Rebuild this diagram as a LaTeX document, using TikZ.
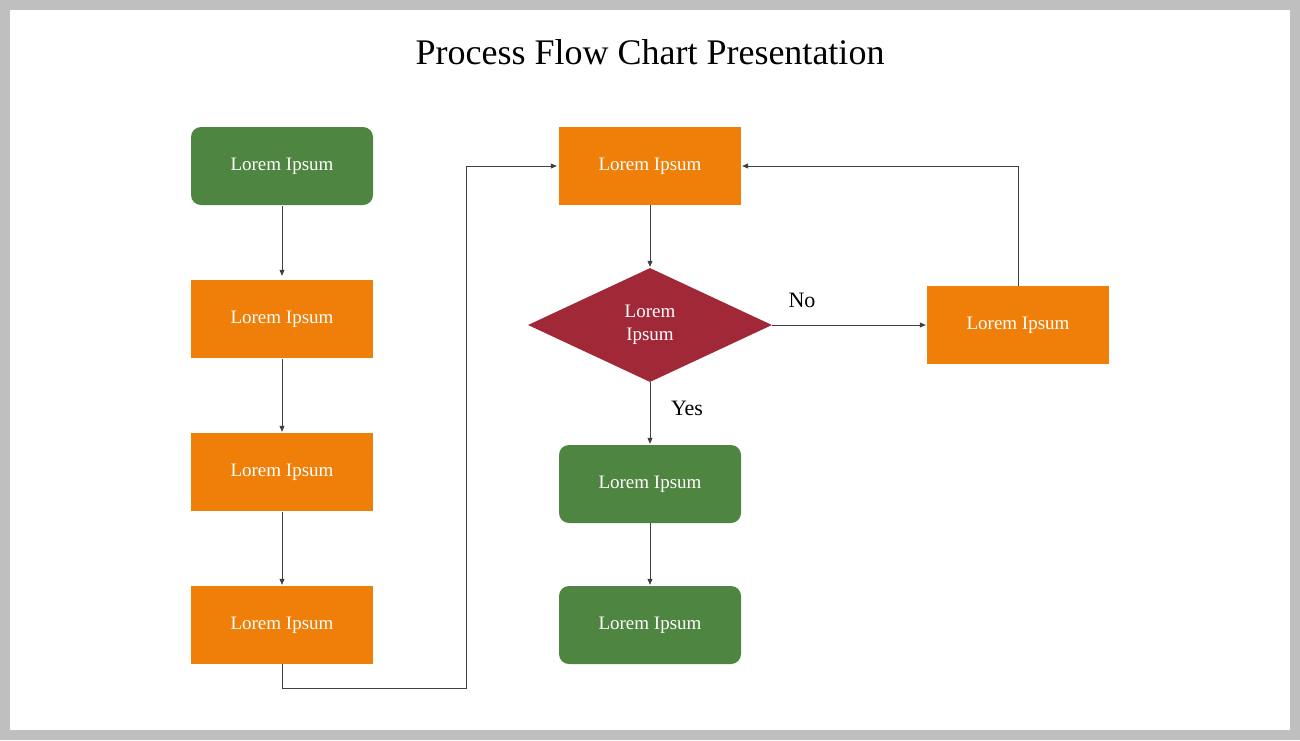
\documentclass[tikz,border=0pt]{standalone}
\usepackage{fontspec}
\setmainfont{Liberation Serif}
\usetikzlibrary{shapes.geometric,arrows.meta}
\definecolor{cgreen}{HTML}{4E8540}
\definecolor{corange}{HTML}{F07F09}
\definecolor{cred}{HTML}{A02837}
\definecolor{cline}{HTML}{404040}
\begin{document}
\begin{tikzpicture}[x=1pt,y=-1pt,
  box/.style={minimum width=182pt,minimum height=78pt,inner sep=0pt,text=white,font=\fontsize{19}{23}\selectfont,align=center},
  obox/.style={box,fill=corange},
  gbox/.style={box,fill=cgreen,rounded corners=10pt},
  dia/.style={diamond,fill=cred,text=white,font=\fontsize{19}{23}\selectfont,align=center,minimum width=244pt,minimum height=114pt,inner sep=0pt,aspect=2.14},
  conn/.style={draw=cline,line width=0.8pt,-{Triangle[length=6pt,width=5pt]}},
  lbl/.style={font=\fontsize{22}{26}\selectfont}]
\fill[gray!50] (0,0) rectangle (1300,740);
\fill[white] (10,10) rectangle (1290,730);
\node[font=\fontsize{36}{42}\selectfont] (title) at (650,52) {Process Flow Chart Presentation};
\node[gbox] (s) at (282,166) {Lorem Ipsum};
\node[obox] (b2) at (282,319) {Lorem Ipsum};
\node[obox] (b3) at (282,472) {Lorem Ipsum};
\node[obox] (b4) at (282,625) {Lorem Ipsum};
\node[obox] (t) at (650,166) {Lorem Ipsum};
\node[dia] (d) at (650,325) {Lorem\\Ipsum};
\node[obox] (n) at (1018,325) {Lorem Ipsum};
\node[gbox] (g1) at (650,484) {Lorem Ipsum};
\node[gbox] (g2) at (650,625) {Lorem Ipsum};
\draw[conn,shorten <=1pt,shorten >=4pt] (s) -- (b2);
\draw[conn,shorten <=1pt,shorten >=1pt] (b2) -- (b3);
\draw[conn,shorten <=1pt,shorten >=1pt] (b3) -- (b4);
\coordinate (c1) at (282,688);
\coordinate (c2) at (466,688);
\coordinate (c3) at (466,166);
\draw[conn,shorten >=2pt] (b4.south) -- (c1) -- (c2) -- (c3) -- (t.west);
\draw[conn,shorten >=1pt] (t) -- (d);
\draw[conn,shorten >=1pt] (d) -- (n);
\draw[conn,shorten >=1pt] (d) -- (g1);
\draw[conn,shorten >=1pt] (g1) -- (g2);
\coordinate (c4) at (1018,166);
\draw[conn,shorten >=1pt] (n.north) -- (c4) -- (t.east);
\node[lbl] (no) at (802,300) {No};
\node[lbl] (yes) at (687,408) {Yes};
\end{tikzpicture}
\end{document}
